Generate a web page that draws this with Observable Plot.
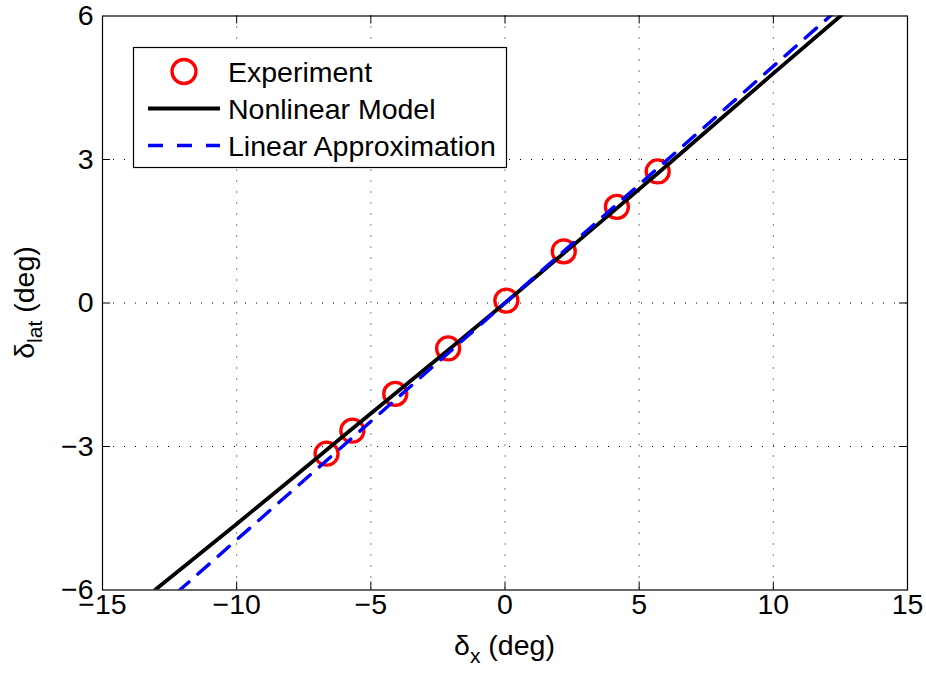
<!DOCTYPE html>
<html>
<head>
<meta charset="utf-8">
<script src="https://cdn.jsdelivr.net/npm/d3@7"></script>
<script src="https://cdn.jsdelivr.net/npm/@observablehq/plot@0.6"></script>
<style>
  html, body { margin: 0; padding: 0; background: white; }
  #chart svg { display: block; }
</style>
</head>
<body>
<div id="chart"></div>
<script>
// ---- data ----
const expX = [-6.65, -5.69, -4.09, -2.12, 0.05, 2.19, 4.17, 5.69];
const expY = [-3.15, -2.67, -1.90, -0.95, 0.05, 1.08, 2.01, 2.75];

const nonlinX = [-13.1, -13, -10, -8, -6, -4, -2, 0, 2, 4, 6, 8, 10, 12.5, 12.6];
const nonlinY = [-6.03, -5.98, -4.62, -3.70, -2.77, -1.85, -0.93, 0, 0.95, 1.90, 2.86, 3.83, 4.80, 6.0, 6.05];

const linX = [-12.2, 12.2];
const linY = [-6.04, 6.04];

const xTicks = [-15, -10, -5, 0, 5, 10, 15];
const yTicks = [-6, -3, 0, 3, 6];
const xGrid = [-10, -5, 0, 5, 10];
const yGrid = [-3, 0, 3];

const legendLabels = ["Experiment", "Nonlinear Model", "Linear Approximation"];

// ---- build ----
const W = 926, H = 673;
const mL = 102, mR = 19, mT = 15.5, mB = 83.5;
const innerW = W - mL - mR, innerH = H - mT - mB;
const tickLen = 8;

const exp = expX.map((x, i) => ({x, y: expY[i]}));
const nonlin = nonlinX.map((x, i) => ({x, y: nonlinY[i]}));
const lin = linX.map((x, i) => ({x, y: linY[i]}));

const plot = Plot.plot({
  width: W,
  height: H,
  marginLeft: mL,
  marginRight: mR,
  marginTop: mT,
  marginBottom: mB,
  style: {fontFamily: "'Liberation Sans', Arial, sans-serif", fontSize: "28.5px", background: "white", color: "black"},
  x: {domain: [-15, 15], ticks: xTicks, tickSize: 0, tickPadding: 4, label: null},
  y: {domain: [-6, 6], ticks: yTicks, tickSize: 0, tickPadding: 9, label: null},
  marks: [
    Plot.ruleX(xGrid, {x: d => d, stroke: "black", strokeWidth: 1, strokeDasharray: "1,10"}),
    Plot.ruleY(yGrid, {y: d => d, stroke: "black", strokeWidth: 1, strokeDasharray: "1,10"}),
    Plot.ruleX(xGrid, {x: d => d, stroke: "black", strokeWidth: 1, insetTop: innerH - tickLen}),
    Plot.ruleX(xGrid, {x: d => d, stroke: "black", strokeWidth: 1, insetBottom: innerH - tickLen}),
    Plot.ruleY(yGrid, {y: d => d, stroke: "black", strokeWidth: 1, insetRight: innerW - tickLen}),
    Plot.ruleY(yGrid, {y: d => d, stroke: "black", strokeWidth: 1, insetLeft: innerW - tickLen}),
    Plot.dot(exp, {x: "x", y: "y", r: 11.5, stroke: "#ff0000", strokeWidth: 3.3, fill: "none"}),
    Plot.line(nonlin, {x: "x", y: "y", stroke: "black", strokeWidth: 3.8, clip: true}),
    Plot.line(lin, {x: "x", y: "y", stroke: "#0000ff", strokeWidth: 3.4, strokeDasharray: "15,12", clip: true}),
    Plot.frame({stroke: "black", strokeWidth: 1.2})
  ]
});

document.getElementById("chart").appendChild(plot);

const svg = d3.select(plot);
const font = "'Liberation Sans', Arial, sans-serif";

// x axis label: δx (deg)
const xl = svg.append("text")
  .attr("x", mL + innerW / 2)
  .attr("y", 655)
  .attr("text-anchor", "middle")
  .style("font-family", font)
  .style("font-size", "28.5px");
xl.append("tspan").text("δ");
xl.append("tspan").attr("dy", 8).style("font-size", "21px").text("x");
xl.append("tspan").attr("dy", -8).text(" (deg)");

// y axis label: δlat (deg)
const yl = svg.append("text")
  .attr("transform", `translate(34, ${mT + innerH / 2}) rotate(-90)`)
  .attr("text-anchor", "middle")
  .style("font-family", font)
  .style("font-size", "28.5px");
yl.append("tspan").text("δ");
yl.append("tspan").attr("dy", 8).style("font-size", "21px").text("lat");
yl.append("tspan").attr("dy", -8).text(" (deg)");

// legend
const lg = svg.append("g");
lg.append("rect")
  .attr("x", 133.5).attr("y", 47.5)
  .attr("width", 373).attr("height", 120)
  .attr("fill", "white").attr("stroke", "black").attr("stroke-width", 1.2);
const rowY = [71.5, 108.5, 145.5];
lg.append("circle").attr("cx", 184).attr("cy", rowY[0]).attr("r", 12)
  .attr("fill", "none").attr("stroke", "#ff0000").attr("stroke-width", 3.3);
lg.append("line").attr("x1", 148).attr("x2", 220).attr("y1", rowY[1]).attr("y2", rowY[1])
  .attr("stroke", "black").attr("stroke-width", 3.8);
lg.append("line").attr("x1", 148).attr("x2", 220).attr("y1", rowY[2]).attr("y2", rowY[2])
  .attr("stroke", "#0000ff").attr("stroke-width", 3.4).attr("stroke-dasharray", "15,14");
legendLabels.forEach((t, i) => {
  lg.append("text")
    .attr("x", 228).attr("y", rowY[i] + 10)
    .attr("text-anchor", "start")
    .style("font-family", font)
    .style("font-size", "28.5px")
    .text(t);
});
</script>
</body>
</html>
